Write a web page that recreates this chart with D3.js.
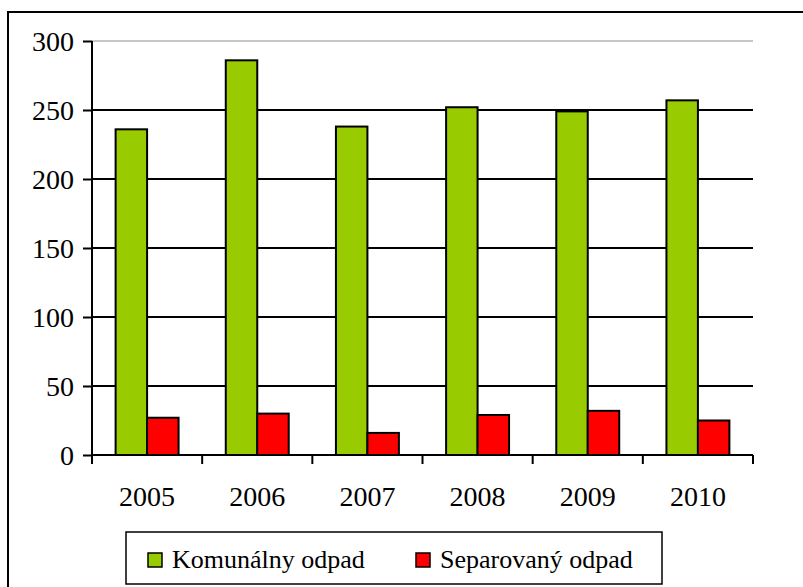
<!DOCTYPE html>
<html>
<head>
<meta charset="utf-8">
<script src="https://cdn.jsdelivr.net/npm/d3@7"></script>
<style>
	body { margin: 0; background: #fff; }
	svg text { font-family: 'Liberation Serif', 'Times New Roman', serif; fill: #000; }
</style>
</head>
<body>
<div id="chart"></div>
<script>
// NOTE chart data
var years = ['2005', '2006', '2007', '2008', '2009', '2010'];
var seriesNames = ['Komunálny odpad', 'Separovaný odpad'];
var komunalny = [236, 286, 238, 252, 249, 257];
var separovany = [27, 30, 16, 29, 32, 25];
var yTicks = [0, 50, 100, 150, 200, 250, 300];
var colors = ['#99cc00', '#ff0000'];

var W = 803, H = 587;

var svg = d3
	.select('#chart')
	.append('svg')
	.attr('width', W)
	.attr('height', H);

// outer frame (runs off right/bottom edge like the original)
svg
	.append('rect')
	.attr('x', 8)
	.attr('y', 12)
	.attr('width', W)
	.attr('height', H)
	.attr('fill', 'none')
	.attr('stroke', '#000')
	.attr('stroke-width', 2);

var plotLeft = 92, plotRight = 753, plotTop = 41, plotBottom = 455;

var x = d3.scaleBand().domain(years).range([plotLeft, plotRight]).padding(0);
var xs = d3
	.scaleBand()
	.domain(seriesNames)
	.range([0, x.bandwidth()])
	.paddingInner(0)
	.paddingOuter(0.75);
var y = d3.scaleLinear().domain([0, 300]).range([plotBottom, plotTop]);

// gridlines
svg
	.append('g')
	.selectAll('line')
	.data(yTicks.filter(function (d) { return d > 0; }))
	.enter()
	.append('line')
	.attr('x1', plotLeft)
	.attr('x2', plotRight)
	.attr('y1', function (d) { return y(d); })
	.attr('y2', function (d) { return y(d); })
	.attr('stroke', function (d) { return d === 300 ? '#b4b4b4' : '#000'; })
	.attr('stroke-width', function (d) { return d === 300 ? 1.5 : 2; });

// bars
var data = [];
for (var i = 0; i < years.length; i++) {
	data.push({ year: years[i], s: seriesNames[0], v: komunalny[i], c: colors[0] });
	data.push({ year: years[i], s: seriesNames[1], v: separovany[i], c: colors[1] });
}

svg
	.append('g')
	.selectAll('rect')
	.data(data)
	.enter()
	.append('rect')
	.attr('x', function (d) { return x(d.year) + xs(d.s); })
	.attr('y', function (d) { return y(d.v); })
	.attr('width', xs.bandwidth())
	.attr('height', function (d) { return y(0) - y(d.v); })
	.attr('fill', function (d) { return d.c; })
	.attr('stroke', '#000')
	.attr('stroke-width', 2);

// y axis
var yAxis = d3.axisLeft(y).tickValues(yTicks).tickSize(9).tickPadding(9);
var gy = svg
	.append('g')
	.attr('transform', 'translate(' + plotLeft + ',0)')
	.call(yAxis);
gy.select('.domain').attr('stroke-width', 2).attr('d', 'M0,' + plotTop + 'V' + plotBottom);
gy.selectAll('.tick line').attr('stroke-width', 2);
gy.selectAll('text').style('font-size', '28px').attr('dy', '0.33em');

// x axis: ticks between categories
var xAxisLine = svg.append('g');
xAxisLine
	.append('line')
	.attr('x1', plotLeft)
	.attr('x2', plotRight)
	.attr('y1', plotBottom)
	.attr('y2', plotBottom)
	.attr('stroke', '#000')
	.attr('stroke-width', 2);
var bounds = years.map(function (d) { return x(d); }).concat([plotRight]);
xAxisLine
	.selectAll('.sep')
	.data(bounds)
	.enter()
	.append('line')
	.attr('x1', function (d) { return d; })
	.attr('x2', function (d) { return d; })
	.attr('y1', plotBottom)
	.attr('y2', plotBottom + 9)
	.attr('stroke', '#000')
	.attr('stroke-width', 2);
xAxisLine
	.selectAll('text')
	.data(years)
	.enter()
	.append('text')
	.attr('x', function (d) { return x(d) + x.bandwidth() / 2; })
	.attr('y', 506)
	.attr('text-anchor', 'middle')
	.style('font-size', '28px')
	.text(function (d) { return d; });

// legend
var lg = svg.append('g');
lg.append('rect')
	.attr('x', 126)
	.attr('y', 532)
	.attr('width', 536)
	.attr('height', 52)
	.attr('fill', '#fff')
	.attr('stroke', '#000')
	.attr('stroke-width', 1.5);
var legX = [148, 416];
var items = lg
	.selectAll('.item')
	.data(seriesNames)
	.enter()
	.append('g')
	.attr('transform', function (d, i) { return 'translate(' + legX[i] + ',553)'; });
items
	.append('rect')
	.attr('width', 14)
	.attr('height', 14)
	.attr('fill', function (d, i) { return colors[i]; })
	.attr('stroke', '#000')
	.attr('stroke-width', 1.5);
items
	.append('text')
	.attr('x', 24)
	.attr('y', 15)
	.style('font-size', '26px')
	.text(function (d) { return d; });
</script>
</body>
</html>
